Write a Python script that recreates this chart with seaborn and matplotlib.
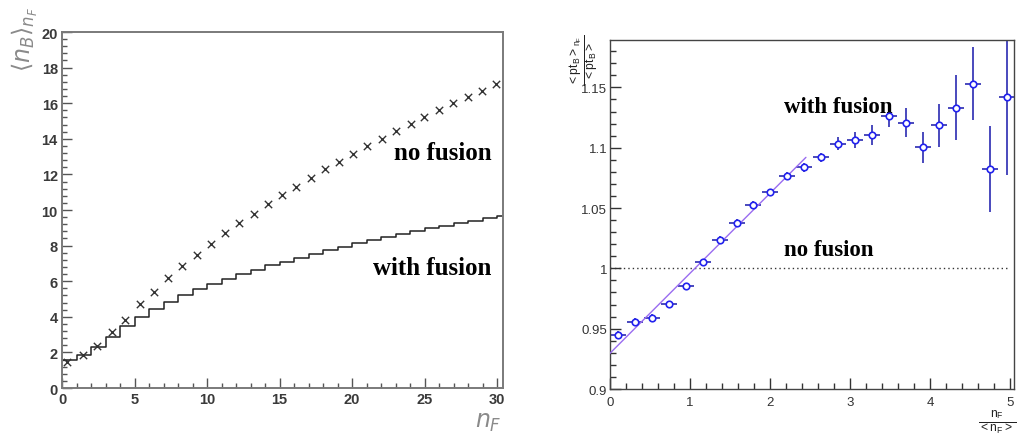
import numpy as np
import pandas as pd
import matplotlib
matplotlib.use("Agg")
import matplotlib.pyplot as plt
from matplotlib.ticker import MultipleLocator, FixedLocator, FixedFormatter
import seaborn as sns

# ---------------- data: left panel ----------------
nofusion_x = [0.35, 1.42, 2.39, 3.42, 4.36, 5.37, 6.31, 7.32, 8.26, 9.27,
              10.24, 11.25, 12.19, 13.2, 14.17, 15.15, 16.1, 17.15, 18.11, 19.08,
              20.06, 21.05, 22.04, 23.02, 24.04, 24.95, 25.99, 26.95, 27.98, 28.95, 29.94]
nofusion_y = [1.48, 1.85, 2.38, 3.13, 3.84, 4.70, 5.41, 6.16, 6.84, 7.47,
              8.09, 8.69, 9.25, 9.78, 10.35, 10.82, 11.31, 11.78, 12.28, 12.71,
              13.16, 13.60, 13.99, 14.42, 14.83, 15.20, 15.60, 15.99, 16.35, 16.70, 17.06]
fusion_edges = list(range(0, 32))
fusion_levels = [1.55, 1.86, 2.33, 2.89, 3.46, 3.97, 4.44, 4.83, 5.22, 5.56,
                 5.86, 6.12, 6.40, 6.65, 6.90, 7.10, 7.32, 7.55, 7.75, 7.95,
                 8.12, 8.30, 8.50, 8.65, 8.82, 9.00, 9.12, 9.26, 9.40, 9.55, 9.66]
left_xticks = [0, 5, 10, 15, 20, 25, 30]
left_yticks = [0, 2, 4, 6, 8, 10, 12, 14, 16, 18, 20]

# ---------------- data: right panel ----------------
ratio_x = [0.104, 0.316, 0.525, 0.737, 0.953, 1.161, 1.374, 1.586, 1.79, 2.007,
           2.219, 2.431, 2.64, 2.852, 3.068, 3.276, 3.485, 3.697, 3.909, 4.12,
           4.33, 4.54, 4.75, 4.962]
ratio_y = [0.9447, 0.9558, 0.9588, 0.9702, 0.9851, 1.005, 1.0238, 1.0376, 1.0525, 1.063,
           1.0768, 1.0837, 1.092, 1.1034, 1.1066, 1.1106, 1.1265, 1.1206, 1.1003, 1.1185,
           1.1333, 1.1532, 1.0823, 1.1420]
ratio_yerr = [0.003, 0.003, 0.003, 0.003, 0.003, 0.003, 0.003, 0.003, 0.003, 0.003,
              0.003, 0.004, 0.004, 0.0055, 0.0065, 0.008, 0.009, 0.012, 0.013, 0.018,
              0.027, 0.030, 0.036, 0.065]
ratio_xerr = [0.1] * 24
fit_x = [0.0, 2.45]
fit_y = [0.9296, 1.092]
ref_x = [0.0, 5.0]
ref_y = [1.0, 1.0]
right_xticks = [0, 1, 2, 3, 4, 5]
right_yticks = [0.9, 0.95, 1.0, 1.05, 1.1, 1.15]
right_yticklabels = ["0.9", "0.95", "1", "1.05", "1.1", "1.15"]

sns.set_style("white")
plt.rcParams["font.family"] = ["Liberation Sans", "DejaVu Sans"]
plt.rcParams["mathtext.fontset"] = "dejavusans"

fig = plt.figure(figsize=(10.2, 4.35), dpi=100)
axL = fig.add_axes([0.0608, 0.1057, 0.4324, 0.8184])
axR = fig.add_axes([0.598, 0.1034, 0.396, 0.803])

# ---------- left panel ----------
df_nf = pd.DataFrame({"x": nofusion_x, "y": nofusion_y})
sns.scatterplot(data=df_nf, x="x", y="y", ax=axL, marker="x", s=28,
                color="#333333", linewidth=1.0, zorder=3)
df_wf = pd.DataFrame({"x": fusion_edges, "y": fusion_levels + [fusion_levels[-1]]})
sns.lineplot(data=df_wf, x="x", y="y", ax=axL, drawstyle="steps-post",
             color="#222222", linewidth=1.1, estimator=None)
axL.set_xlim(0, 30.4)
axL.set_ylim(0, 20)
axL.set_xlabel("")
axL.set_ylabel("")
axL.xaxis.set_major_locator(FixedLocator(left_xticks))
axL.xaxis.set_minor_locator(MultipleLocator(1))
axL.yaxis.set_major_locator(FixedLocator(left_yticks))
axL.yaxis.set_minor_locator(MultipleLocator(0.4))
axL.tick_params(which="both", direction="in", bottom=True, left=True,
                top=False, right=False,
                colors="#555555", labelcolor="#3a3a3a", width=1.0)
axL.tick_params(which="major", length=7, labelsize=10.5, pad=3)
axL.tick_params(which="minor", length=3.5)
for lab in axL.get_xticklabels() + axL.get_yticklabels():
    lab.set_fontweight("bold")
for sp in axL.spines.values():
    sp.set_color("#7a7a7a")
    sp.set_linewidth(1.4)
axL.text(29.6, 13.25, "no fusion", ha="right", va="center", fontsize=18,
         fontweight="bold", family="Liberation Serif", color="black")
axL.text(29.6, 6.75, "with fusion", ha="right", va="center", fontsize=18,
         fontweight="bold", family="Liberation Serif", color="black")
fig.text(0.024, 0.91, r"$\langle n_B\rangle_{n_F}$", rotation=90, ha="center",
         va="center", fontsize=17, color="#8a8a8a")
fig.text(0.479, 0.027, r"$n_F$", ha="center", va="center", fontsize=17,
         color="#8a8a8a")

# ---------- right panel ----------
axR.errorbar(ratio_x, ratio_y, yerr=ratio_yerr, xerr=ratio_xerr, fmt="none",
             ecolor="#3a3ab8", elinewidth=1.3, capsize=0, zorder=2)
df_r = pd.DataFrame({"x": ratio_x, "y": ratio_y})
sns.scatterplot(data=df_r, x="x", y="y", ax=axR, marker="o", s=22,
                facecolor="white", edgecolor="#2222ee", linewidth=1.2, zorder=4)
df_fit = pd.DataFrame({"x": fit_x, "y": fit_y})
sns.lineplot(data=df_fit, x="x", y="y", ax=axR, color="#9a6cf0", linewidth=1.0,
             estimator=None, zorder=3)
df_ref = pd.DataFrame({"x": ref_x, "y": ref_y})
sns.lineplot(data=df_ref, x="x", y="y", ax=axR, color="#333333", linewidth=1.0,
             linestyle=(0, (1, 2.2)), estimator=None, zorder=1)
axR.set_xlim(0, 5.05)
axR.set_ylim(0.9, 1.1895)
axR.set_xlabel("")
axR.set_ylabel("")
axR.xaxis.set_major_locator(FixedLocator(right_xticks))
axR.xaxis.set_minor_locator(MultipleLocator(0.2))
axR.yaxis.set_major_locator(FixedLocator(right_yticks))
axR.yaxis.set_major_formatter(FixedFormatter(right_yticklabels))
axR.yaxis.set_minor_locator(MultipleLocator(0.01))
axR.tick_params(which="both", direction="in", bottom=True, left=True,
                top=False, right=False,
                colors="#333333", labelcolor="#333333", width=1.0)
axR.tick_params(which="major", length=8, labelsize=9.5, pad=2)
axR.tick_params(axis="x", which="major", pad=5)
axR.tick_params(which="minor", length=4)
for sp in axR.spines.values():
    sp.set_color("#444444")
    sp.set_linewidth(1.0)
axR.text(2.17, 1.1345, "with fusion", ha="left", va="center", fontsize=16.5,
         fontweight="bold", family="Liberation Serif", color="black")
axR.text(2.17, 1.0155, "no fusion", ha="left", va="center", fontsize=16.5,
         fontweight="bold", family="Liberation Serif", color="black")
fig.text(0.574, 0.862, r"$\frac{\mathregular{<pt_B>_{n_F}}}{\mathregular{<pt_B>}}$",
         rotation=90, ha="center", va="center", fontsize=12.5, color="#222222")
fig.text(0.977, 0.030, r"$\frac{\mathregular{n_F}}{\mathregular{<n_F>}}$",
         ha="center", va="center", fontsize=12.5, color="#222222")

fig.savefig("out.png", dpi=100)
